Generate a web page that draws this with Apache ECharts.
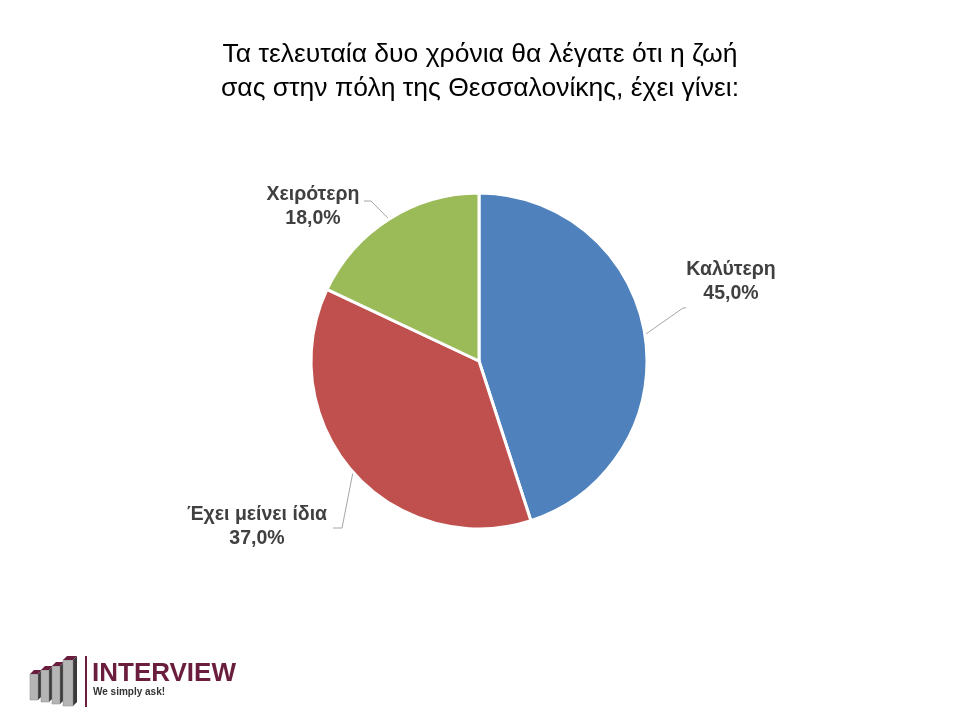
<!DOCTYPE html>
<html>
<head>
<meta charset="utf-8">
<script src="https://cdn.jsdelivr.net/npm/echarts@6/dist/echarts.min.js"></script>
<style>html,body{margin:0;padding:0;background:#fff}#c{width:960px;height:720px}</style>
</head>
<body>
<div id="c"></div>
<script>
const titleLines = ['Τα τελευταία δυο χρόνια θα λέγατε ότι η ζωή', 'σας στην πόλη της Θεσσαλονίκης, έχει γίνει:'];
const categories = ['Καλύτερη', 'Έχει μείνει ίδια', 'Χειρότερη'];
const values = [45.0, 37.0, 18.0];
const colors = ['#4F81BD', '#C0504D', '#9BBB59'];

const labelPos = [
  {x: 731, y: 282, line: [[683, 308], [686, 308]]},
  {x: 257, y: 527, line: [[342, 528], [333, 528]]},
  {x: 313, y: 207, line: [[371, 201], [364, 201]]}
];

const chart = echarts.init(document.getElementById('c'), null, {renderer: 'canvas'});

const barGraphics = [];
const bars = [
  {x: 30, top: 670, w: 12, bottom: 700},
  {x: 41, top: 666, w: 12, bottom: 702},
  {x: 52, top: 662, w: 12, bottom: 704},
  {x: 63, top: 656, w: 14, bottom: 706}
];
bars.forEach(b => {
  const d = 4;
  barGraphics.push({type: 'polygon', shape: {points: [[b.x + b.w - d, b.top + d], [b.x + b.w, b.top], [b.x + b.w, b.bottom - d], [b.x + b.w - d, b.bottom]]}, style: {fill: '#3a3a3a'}});
  barGraphics.push({type: 'rect', shape: {x: b.x, y: b.top + d, width: b.w - d, height: b.bottom - b.top - d}, style: {fill: '#b5b5b5', stroke: '#8a8a8a', lineWidth: 0.5}});
  barGraphics.push({type: 'polygon', shape: {points: [[b.x, b.top + d], [b.x + d, b.top], [b.x + b.w, b.top], [b.x + b.w - d, b.top + d]]}, style: {fill: '#6b1d3e'}});
});

chart.setOption({
  backgroundColor: '#ffffff',
  title: {
    text: titleLines.join('\n'),
    left: 'center',
    top: 33,
    textStyle: {fontFamily: 'Liberation Sans, Arial, sans-serif', fontSize: 26.5, fontWeight: 'normal', color: '#000', lineHeight: 34}
  },
  series: [{
    type: 'pie',
    center: [479, 361],
    radius: 168,
    startAngle: 90,
    clockwise: true,
    animation: false,
    data: categories.map((n, i) => ({name: n, value: values[i], itemStyle: {color: colors[i]}})),
    itemStyle: {borderColor: '#ffffff', borderWidth: 3},
    label: {
      show: true,
      position: 'outside',
      formatter: p => p.name + '\n' + p.value.toFixed(1).replace('.', ',') + '%',
      fontFamily: 'Liberation Sans, Arial, sans-serif',
      fontSize: 19.5,
      fontWeight: 'bold',
      color: '#404040',
      lineHeight: 24,
      align: 'center'
    },
    labelLine: {show: true, lineStyle: {color: '#a6a6a6', width: 1}},
    labelLayout: function (params) {
      const lp = labelPos[params.dataIndex];
      const pts = params.labelLinePoints;
      const start = pts ? pts[0] : lp.line[0];
      return {
        x: lp.x, y: lp.y, align: 'center', verticalAlign: 'middle',
        labelLinePoints: [start, lp.line[0], lp.line[1]]
      };
    }
  }],
  graphic: barGraphics.concat([
    {type: 'rect', shape: {x: 85, y: 656, width: 2, height: 51}, style: {fill: '#6b1d3e'}},
    {type: 'text', x: 92, y: 661, style: {text: 'INTERVIEW', fontFamily: 'Liberation Sans, Arial, sans-serif', fontWeight: 'bold', fontSize: 26, fill: '#6b1d3e'}},
    {type: 'text', x: 93, y: 687, style: {text: 'We simply ask!', fontFamily: 'Liberation Sans, Arial, sans-serif', fontWeight: 'bold', fontSize: 10, fill: '#333333'}}
  ])
});
</script>
</body>
</html>
